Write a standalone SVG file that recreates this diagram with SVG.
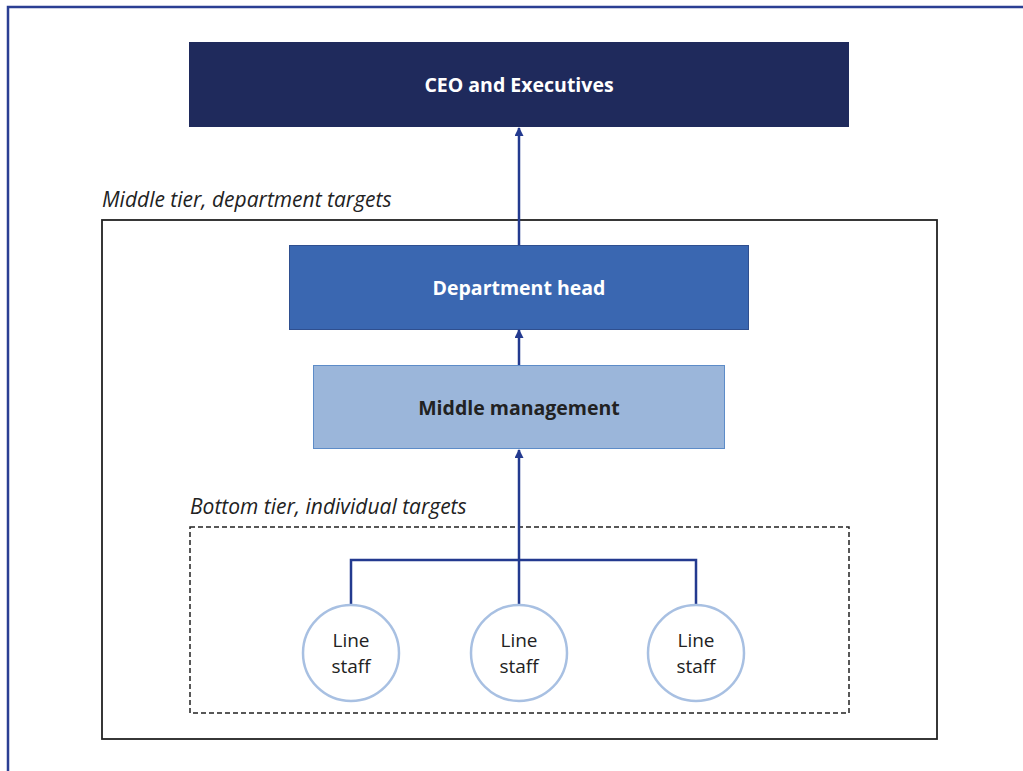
<svg xmlns="http://www.w3.org/2000/svg" width="1023" height="771" viewBox="0 0 1023 771">
<defs>
<marker id="ah" viewBox="0 0 10 10" refX="9" refY="5" markerWidth="10" markerHeight="9" markerUnits="userSpaceOnUse" orient="auto">
<path d="M0,0 L10,5 L0,10 z" fill="#233a8f"/>
</marker>
<style>
.lbl{font-family:"Open Sans","Noto Sans","Liberation Sans",sans-serif;}
.bold{font-weight:bold;font-size:19.5px;text-anchor:middle;}
.ital{font-style:italic;font-size:21px;fill:#222;}
.conn{stroke:#233a8f;stroke-width:2.5;fill:none;}
.circ{fill:#fff;stroke:#a8c0e2;stroke-width:2.5;}
.ctext{font-size:19px;fill:#222;text-anchor:middle;}
</style>
</defs>
<rect width="1023" height="771" fill="#fff"/>
<path d="M8,771 L8,7 L1023,7" fill="none" stroke="#2b3f93" stroke-width="2.5"/>

<g id="middle-tier">
<rect x="102" y="220" width="835" height="519" fill="none" stroke="#222" stroke-width="1.8"/>
<text class="lbl ital" x="102" y="207">Middle tier, department targets</text>
</g>
<g id="bottom-tier">
<rect x="190" y="527" width="659" height="186" fill="none" stroke="#222" stroke-width="1.5" stroke-dasharray="5,3"/>
<text class="lbl ital" x="190" y="514">Bottom tier, individual targets</text>
</g>

<g id="ceo">
<rect x="189" y="42" width="660" height="85" fill="#1f2a5c"/>
<text class="lbl bold" x="519" y="92" fill="#fff">CEO and Executives</text>
</g>
<g id="dept-head">
<rect x="289.5" y="245.5" width="459" height="84" fill="#3a67b1" stroke="#2f4f8f" stroke-width="1"/>
<text class="lbl bold" x="519" y="295" fill="#fff">Department head</text>
</g>
<g id="middle-mgmt">
<rect x="313.5" y="365.5" width="411" height="83" fill="#9bb6da" stroke="#5d8cc8" stroke-width="1"/>
<text class="lbl bold" x="519" y="415" fill="#222">Middle management</text>
</g>

<g id="connectors">
<line class="conn" x1="519" y1="245" x2="519" y2="128" marker-end="url(#ah)"/>
<line class="conn" x1="519" y1="365" x2="519" y2="330" marker-end="url(#ah)"/>
<line class="conn" x1="519" y1="605" x2="519" y2="450" marker-end="url(#ah)"/>
<path class="conn" d="M351,605 L351,560 L696,560 L696,605"/>
</g>

<g id="staff1">
<circle class="circ" cx="351" cy="653" r="48"/>
<text class="lbl ctext" x="351" y="647">Line</text>
<text class="lbl ctext" x="351" y="673">staff</text>
</g>
<g id="staff2">
<circle class="circ" cx="519" cy="653" r="48"/>
<text class="lbl ctext" x="519" y="647">Line</text>
<text class="lbl ctext" x="519" y="673">staff</text>
</g>
<g id="staff3">
<circle class="circ" cx="696" cy="653" r="48"/>
<text class="lbl ctext" x="696" y="647">Line</text>
<text class="lbl ctext" x="696" y="673">staff</text>
</g>
</svg>
